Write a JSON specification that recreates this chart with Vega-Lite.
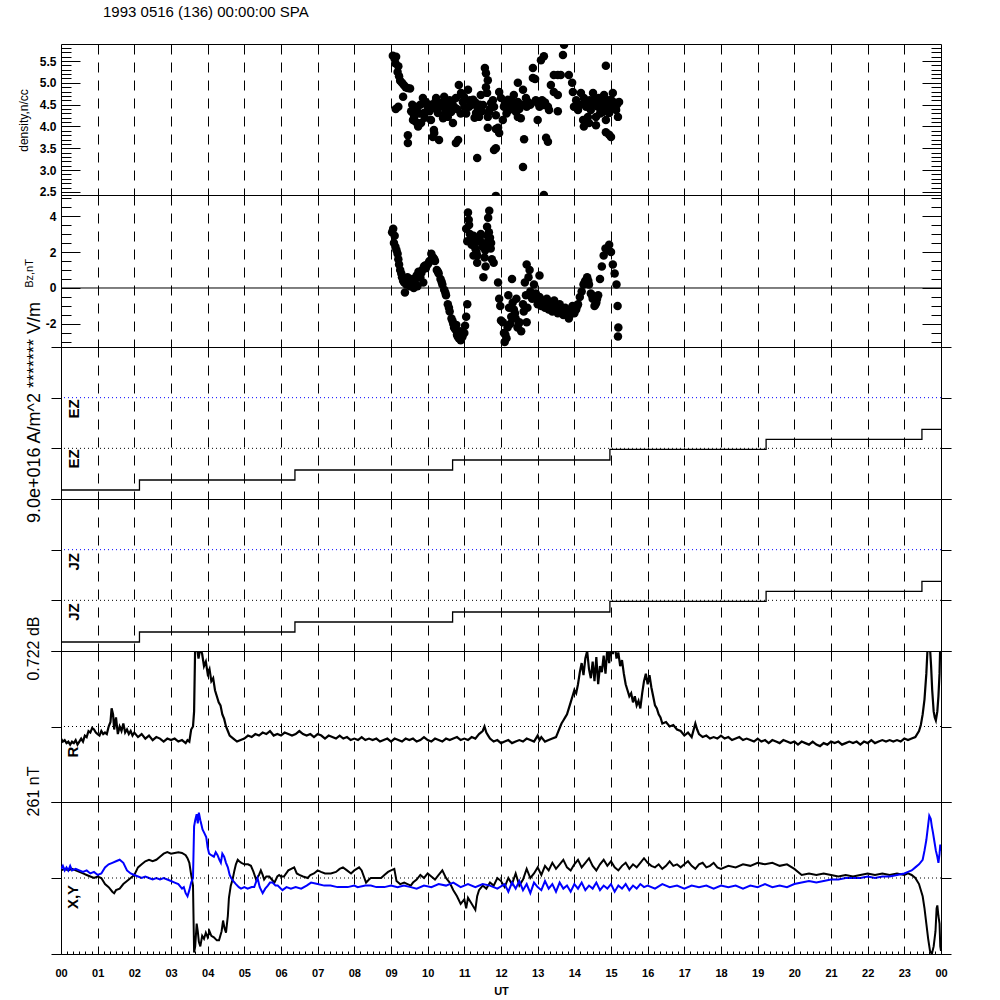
{
"$schema": "https://vega.github.io/schema/vega-lite/v6.json",
"padding": {"left": 16, "top": 4, "right": 10, "bottom": 4},
"spacing": 0,
"bounds": "flush",
"config": {
  "font": "Liberation Sans",
  "view": {"stroke": "black", "strokeWidth": 1},
  "axis": {"grid": false, "domain": false, "tickCount": 1000, "tickColor": "black", "labelColor": "black", "titleColor": "black", "labelFont": "Liberation Sans", "titleFont": "Liberation Sans", "titleFontWeight": "normal", "labelFontWeight": "bold", "labelFontSize": 12}
},
"datasets": {
"dens": [
{"t":9.05,"v":5.62},{"t":9.1,"v":5.55},{"t":9.14,"v":5.6},{"t":9.12,"v":5.45},{"t":9.2,"v":5.38},{"t":9.18,"v":5.25},{"t":9.22,"v":5.15},{"t":9.25,"v":5.05},{"t":9.3,"v":5.0},{"t":9.35,"v":4.95},{"t":9.4,"v":4.9},{"t":9.45,"v":4.88},{"t":9.52,"v":4.87},{"t":9.33,"v":4.68},{"t":9.13,"v":4.4},{"t":9.2,"v":4.45},
{"t":9.63,"v":4.22},{"t":9.6,"v":4.15},{"t":9.74,"v":4.0},{"t":9.82,"v":4.08},{"t":9.9,"v":4.31},{"t":10.0,"v":4.45},{"t":9.95,"v":4.56},{"t":9.87,"v":4.65},{"t":10.09,"v":4.5},{"t":10.09,"v":4.15},{"t":10.17,"v":3.92},{"t":10.14,"v":3.76},{"t":9.46,"v":3.8},{"t":9.46,"v":3.62},{"t":9.6,"v":4.31},{"t":9.68,"v":4.1},{"t":9.7,"v":4.4},{"t":9.78,"v":4.3},{"t":9.55,"v":4.35},
{"t":10.23,"v":4.65},{"t":10.36,"v":4.54},{"t":10.45,"v":4.68},{"t":10.55,"v":4.56},{"t":10.64,"v":4.33},{"t":10.72,"v":4.45},{"t":10.77,"v":4.65},{"t":10.28,"v":4.31},{"t":10.42,"v":4.19},{"t":10.55,"v":4.22},{"t":10.69,"v":4.08},{"t":10.31,"v":3.69},{"t":10.18,"v":3.85},{"t":10.83,"v":3.69},{"t":10.77,"v":3.62},{"t":10.85,"v":4.95},{"t":10.91,"v":4.77},{"t":10.96,"v":4.56},{"t":10.3,"v":4.45},{"t":10.5,"v":4.4},{"t":10.6,"v":4.6},
{"t":10.99,"v":4.68},{"t":11.1,"v":4.84},{"t":11.13,"v":4.45},{"t":11.24,"v":4.61},{"t":11.32,"v":4.31},{"t":11.37,"v":4.42},{"t":11.45,"v":4.72},{"t":11.51,"v":4.49},{"t":11.4,"v":4.22},{"t":11.56,"v":5.34},{"t":11.59,"v":5.22},{"t":11.64,"v":5.06},{"t":11.59,"v":4.9},{"t":11.62,"v":4.77},{"t":11.67,"v":4.33},{"t":11.64,"v":4.22},{"t":11.73,"v":4.54},{"t":11.81,"v":4.45},{"t":11.86,"v":4.26},{"t":11.35,"v":3.28},{"t":11.64,"v":3.97},{"t":11.86,"v":3.94},{"t":11.95,"v":3.85},{"t":11.86,"v":3.5},{"t":11.81,"v":3.46},{"t":11.05,"v":4.3},{"t":11.2,"v":4.5},{"t":11.28,"v":4.2},
{"t":11.95,"v":4.79},{"t":12.0,"v":4.65},{"t":12.08,"v":4.45},{"t":12.19,"v":4.61},{"t":12.22,"v":4.38},{"t":12.33,"v":4.54},{"t":12.35,"v":4.72},{"t":12.41,"v":4.33},{"t":12.46,"v":4.56},{"t":12.46,"v":5.0},{"t":12.54,"v":4.19},{"t":12.6,"v":4.84},{"t":12.68,"v":4.65},{"t":12.74,"v":4.56},{"t":12.76,"v":4.54},{"t":12.87,"v":5.34},{"t":12.87,"v":5.11},{"t":12.93,"v":5.09},{"t":13.0,"v":4.54},{"t":13.0,"v":4.15},{"t":12.6,"v":3.07},{"t":12.63,"v":3.71},{"t":12.46,"v":4.22},{"t":12.05,"v":4.15},{"t":11.86,"v":2.41},{"t":11.92,"v":3.97},{"t":12.15,"v":4.3},{"t":12.28,"v":4.45},
{"t":13.09,"v":5.52},{"t":13.17,"v":5.61},{"t":13.09,"v":4.56},{"t":13.17,"v":4.49},{"t":13.28,"v":4.45},{"t":13.31,"v":4.38},{"t":13.23,"v":3.74},{"t":13.28,"v":3.65},{"t":13.17,"v":2.43},{"t":13.36,"v":4.95},{"t":13.44,"v":5.18},{"t":13.55,"v":5.18},{"t":13.63,"v":5.18},{"t":13.69,"v":5.64},{"t":13.72,"v":5.87},{"t":13.44,"v":4.79},{"t":13.55,"v":4.72},{"t":13.55,"v":4.35},{"t":13.94,"v":5.0},{"t":13.96,"v":4.79},{"t":13.85,"v":5.18},
{"t":13.99,"v":4.45},{"t":14.1,"v":4.38},{"t":14.18,"v":4.77},{"t":14.26,"v":4.65},{"t":14.32,"v":4.45},{"t":14.24,"v":4.15},{"t":14.26,"v":4.0},{"t":14.37,"v":4.22},{"t":14.45,"v":4.38},{"t":14.51,"v":4.77},{"t":14.54,"v":4.61},{"t":14.59,"v":4.22},{"t":14.64,"v":4.45},{"t":14.67,"v":4.65},{"t":14.73,"v":4.54},{"t":14.78,"v":4.33},{"t":14.81,"v":4.72},{"t":14.86,"v":4.15},{"t":14.92,"v":4.45},{"t":14.95,"v":4.31},{"t":15.0,"v":4.61},{"t":15.05,"v":4.77},{"t":15.08,"v":4.49},{"t":15.14,"v":4.38},{"t":15.19,"v":4.22},{"t":15.22,"v":4.56},{"t":14.86,"v":5.39},{"t":14.95,"v":3.81},{"t":15.0,"v":3.76},{"t":14.86,"v":3.87},{"t":14.4,"v":4.08},{"t":14.59,"v":4.03},{"t":14.7,"v":4.3},{"t":14.9,"v":4.6},
{"t":10.05,"v":4.35},{"t":10.12,"v":4.42},{"t":10.2,"v":4.55},{"t":10.4,"v":4.45},{"t":10.48,"v":4.3},{"t":10.58,"v":4.48},{"t":10.67,"v":4.55},{"t":10.8,"v":4.4},{"t":10.9,"v":4.3},{"t":11.0,"v":4.45},{"t":11.15,"v":4.6},{"t":11.3,"v":4.55},{"t":11.42,"v":4.5},{"t":11.48,"v":4.35},{"t":11.7,"v":4.4},{"t":11.78,"v":4.6},{"t":12.1,"v":4.5},{"t":12.25,"v":4.6},{"t":12.38,"v":4.48},{"t":12.5,"v":4.4},{"t":12.58,"v":4.5},{"t":12.7,"v":4.45},{"t":12.8,"v":4.5},{"t":12.95,"v":4.6},{"t":13.05,"v":4.45},{"t":13.12,"v":4.6},{"t":13.2,"v":4.55},{"t":14.05,"v":4.6},{"t":14.15,"v":4.5},{"t":14.3,"v":4.55},{"t":14.42,"v":4.6},{"t":14.48,"v":4.5},{"t":14.62,"v":4.55},{"t":14.69,"v":4.45},{"t":14.76,"v":4.6},{"t":14.84,"v":4.5},{"t":14.98,"v":4.4},{"t":15.1,"v":4.55},{"t":15.16,"v":4.5},{"t":9.58,"v":4.5},{"t":9.66,"v":4.45},{"t":9.8,"v":4.5},{"t":9.92,"v":4.2}
],
"bz": [
{"t":9.03,"v":3.1},{"t":9.06,"v":3.3},{"t":9.1,"v":2.9},{"t":9.08,"v":2.5},{"t":9.12,"v":2.3},{"t":9.15,"v":2.1},{"t":9.18,"v":1.9},{"t":9.2,"v":1.6},{"t":9.22,"v":1.3},{"t":9.25,"v":1.0},{"t":9.28,"v":0.8},{"t":9.3,"v":0.6},{"t":9.33,"v":0.4},{"t":9.36,"v":0.3},{"t":9.4,"v":0.5},{"t":9.42,"v":0.2},{"t":9.38,"v":-0.25},{"t":9.45,"v":0.6},
{"t":9.5,"v":0.4},{"t":9.55,"v":0.2},{"t":9.6,"v":0.5},{"t":9.65,"v":0.3},{"t":9.7,"v":0.7},{"t":9.75,"v":0.9},{"t":9.8,"v":0.6},{"t":9.85,"v":1.0},{"t":9.9,"v":1.2},{"t":9.95,"v":1.1},{"t":10.0,"v":1.3},{"t":10.05,"v":1.5},{"t":10.1,"v":1.9},{"t":10.15,"v":1.7},{"t":10.2,"v":1.5},{"t":9.62,"v":0.0},{"t":9.72,"v":0.1},{"t":9.88,"v":0.3},
{"t":10.25,"v":1.0},{"t":10.3,"v":0.8},{"t":10.35,"v":0.5},{"t":10.4,"v":0.2},{"t":10.45,"v":-0.1},{"t":10.5,"v":-0.4},{"t":10.55,"v":-0.9},{"t":10.6,"v":-1.3},{"t":10.65,"v":-1.7},{"t":10.7,"v":-2.0},{"t":10.75,"v":-2.3},{"t":10.8,"v":-2.6},{"t":10.85,"v":-2.8},{"t":10.9,"v":-2.9},{"t":10.95,"v":-2.7},{"t":11.0,"v":-2.5},{"t":10.88,"v":-2.4},{"t":11.02,"v":-2.1},{"t":11.05,"v":-1.6},{"t":11.08,"v":-0.9},{"t":10.78,"v":-2.05},
{"t":11.05,"v":3.3},{"t":11.1,"v":4.2},{"t":11.12,"v":3.8},{"t":11.08,"v":2.6},{"t":11.15,"v":3.0},{"t":11.2,"v":2.4},{"t":11.25,"v":2.9},{"t":11.3,"v":2.2},{"t":11.35,"v":1.8},{"t":11.4,"v":2.6},{"t":11.45,"v":3.0},{"t":11.5,"v":2.3},{"t":11.55,"v":1.7},{"t":11.6,"v":2.5},{"t":11.62,"v":3.4},{"t":11.65,"v":3.9},{"t":11.7,"v":2.8},{"t":11.72,"v":2.2},{"t":11.75,"v":1.6},{"t":11.8,"v":1.4},{"t":11.68,"v":4.3},{"t":11.52,"v":0.6},{"t":11.58,"v":1.2},{"t":11.35,"v":1.4},{"t":11.25,"v":1.8},
{"t":11.92,"v":0.3},{"t":11.95,"v":-0.6},{"t":11.98,"v":-1.0},{"t":12.0,"v":-1.8},{"t":12.05,"v":-1.9},{"t":12.08,"v":-2.5},{"t":12.1,"v":-3.0},{"t":12.15,"v":-2.8},{"t":12.2,"v":-0.4},{"t":12.22,"v":-1.1},{"t":12.3,"v":0.5},{"t":12.35,"v":-1.2},{"t":12.4,"v":-1.7},{"t":12.45,"v":-2.2},{"t":12.5,"v":-1.9},{"t":12.55,"v":-2.4},{"t":12.42,"v":-0.6},{"t":12.25,"v":-2.0},{"t":12.6,"v":-0.9},
{"t":12.65,"v":0.3},{"t":12.7,"v":1.3},{"t":12.75,"v":0.6},{"t":12.68,"v":-0.4},{"t":12.72,"v":-1.1},{"t":12.7,"v":-1.9},{"t":12.8,"v":-0.2},{"t":12.85,"v":-0.6},{"t":12.9,"v":0.2},{"t":12.95,"v":-0.3},{"t":13.0,"v":-0.9},{"t":13.05,"v":-0.5},{"t":13.1,"v":-1.0},{"t":13.15,"v":-0.7},{"t":13.2,"v":-1.1},{"t":13.25,"v":-0.6},{"t":13.3,"v":-1.2},{"t":13.35,"v":-0.9},{"t":13.4,"v":-1.3},{"t":13.45,"v":-0.7},{"t":13.5,"v":-1.0},{"t":13.55,"v":-1.4},{"t":13.6,"v":-0.9},{"t":13.65,"v":-1.2},{"t":13.7,"v":-1.5},{"t":13.75,"v":-1.1},{"t":13.8,"v":-1.3},{"t":13.85,"v":-1.7},{"t":13.9,"v":-1.3},{"t":13.95,"v":-1.0},{"t":14.0,"v":-1.4},{"t":14.05,"v":-1.2},{"t":13.05,"v":0.7},{"t":12.78,"v":1.0},
{"t":14.1,"v":-0.9},{"t":14.15,"v":-0.5},{"t":14.2,"v":-0.2},{"t":14.25,"v":0.2},{"t":14.3,"v":0.4},{"t":14.35,"v":0.6},{"t":14.4,"v":0.2},{"t":14.45,"v":-0.3},{"t":14.5,"v":-0.6},{"t":14.55,"v":-1.0},{"t":14.6,"v":-0.8},{"t":14.65,"v":-0.4},{"t":14.7,"v":0.5},{"t":14.8,"v":1.8},{"t":14.85,"v":2.2},{"t":14.95,"v":2.4},{"t":15.0,"v":2.0},{"t":15.05,"v":1.3},{"t":15.1,"v":0.8},{"t":15.15,"v":0.2},{"t":15.18,"v":-1.0},{"t":15.2,"v":-2.2},{"t":15.19,"v":-2.7},
{"t":9.47,"v":0.5},{"t":9.52,"v":0.1},{"t":9.57,"v":0.35},{"t":9.68,"v":0.55},{"t":9.78,"v":0.75},{"t":9.83,"v":0.85},{"t":9.93,"v":1.25},{"t":10.03,"v":1.4},{"t":10.12,"v":1.6},{"t":10.18,"v":1.6},{"t":10.28,"v":0.9},{"t":10.38,"v":0.35},{"t":10.48,"v":-0.25},{"t":10.58,"v":-1.1},{"t":10.68,"v":-1.85},{"t":10.72,"v":-2.2},{"t":10.82,"v":-2.7},{"t":10.92,"v":-2.8},{"t":11.13,"v":3.5},{"t":11.18,"v":2.7},{"t":11.28,"v":2.5},{"t":11.33,"v":2.0},{"t":11.42,"v":2.8},{"t":11.48,"v":2.5},{"t":11.57,"v":2.1},{"t":11.63,"v":2.9},{"t":11.67,"v":3.1},{"t":11.73,"v":2.5},{"t":12.12,"v":-2.6},{"t":12.18,"v":-2.2},{"t":12.28,"v":-1.6},{"t":12.32,"v":-0.8},{"t":12.38,"v":-1.4},{"t":12.48,"v":-2.0},{"t":12.62,"v":-1.3},{"t":12.88,"v":-0.4},{"t":12.98,"v":-0.6},{"t":13.08,"v":-0.8},{"t":13.18,"v":-0.9},{"t":13.28,"v":-0.9},{"t":13.38,"v":-1.1},{"t":13.48,"v":-0.9},{"t":13.58,"v":-1.2},{"t":13.68,"v":-1.3},{"t":13.78,"v":-1.2},{"t":13.88,"v":-1.5},{"t":13.98,"v":-1.2},{"t":14.08,"v":-1.0},{"t":14.28,"v":0.3},{"t":14.38,"v":0.4},{"t":14.48,"v":-0.4},{"t":14.58,"v":-0.9},{"t":14.62,"v":-0.6},{"t":14.75,"v":1.2},{"t":14.9,"v":2.1}
],
"ez": [{"t":0,"v":0.178},{"t":2.14,"v":0.375},{"t":6.38,"v":0.572},{"t":10.68,"v":0.77},{"t":14.97,"v":0.98},{"t":19.23,"v":1.178},{"t":23.48,"v":1.375},{"t":24,"v":1.375}],
"r": [
{"t":0.0,"v":0.42},{"t":0.05,"v":0.40},{"t":0.1,"v":0.41},{"t":0.15,"v":0.39},{"t":0.2,"v":0.40},{"t":0.25,"v":0.38},{"t":0.3,"v":0.40},{"t":0.35,"v":0.39},{"t":0.4,"v":0.41},{"t":0.45,"v":0.38},{"t":0.5,"v":0.40},{"t":0.55,"v":0.42},{"t":0.6,"v":0.40},{"t":0.65,"v":0.44},{"t":0.7,"v":0.43},{"t":0.75,"v":0.47},{"t":0.8,"v":0.46},{"t":0.85,"v":0.49},{"t":0.9,"v":0.48},{"t":0.95,"v":0.46},{"t":1.0,"v":0.45},{"t":1.05,"v":0.44},{"t":1.1,"v":0.47},{"t":1.15,"v":0.45},{"t":1.2,"v":0.46},{"t":1.25,"v":0.45},{"t":1.3,"v":0.50},{"t":1.35,"v":0.53},{"t":1.38,"v":0.62},{"t":1.42,"v":0.58},{"t":1.45,"v":0.48},{"t":1.5,"v":0.56},{"t":1.55,"v":0.45},{"t":1.6,"v":0.50},{"t":1.65,"v":0.47},{"t":1.7,"v":0.52},{"t":1.75,"v":0.46},{"t":1.8,"v":0.48},{"t":1.85,"v":0.45},{"t":1.9,"v":0.47},{"t":1.95,"v":0.44},{"t":2.0,"v":0.46},{"t":2.1,"v":0.43},{"t":2.2,"v":0.45},{"t":2.3,"v":0.42},{"t":2.4,"v":0.44},{"t":2.5,"v":0.41},{"t":2.6,"v":0.43},{"t":2.7,"v":0.42},{"t":2.8,"v":0.40},{"t":2.9,"v":0.42},{"t":3.0,"v":0.41},{"t":3.1,"v":0.42},{"t":3.2,"v":0.40},{"t":3.3,"v":0.41},{"t":3.4,"v":0.39},{"t":3.45,"v":0.41},{"t":3.5,"v":0.40},{"t":3.55,"v":0.48},{"t":3.6,"v":0.50},{"t":3.63,"v":0.60},{"t":3.66,"v":1.05},{"t":3.7,"v":1.05},{"t":3.75,"v":0.95},{"t":3.8,"v":1.02},{"t":3.85,"v":0.98},{"t":3.9,"v":0.90},{"t":3.95,"v":0.93},{"t":4.0,"v":0.85},{"t":4.05,"v":0.88},{"t":4.1,"v":0.80},{"t":4.15,"v":0.82},{"t":4.2,"v":0.74},{"t":4.25,"v":0.70},{"t":4.3,"v":0.66},{"t":4.35,"v":0.64},{"t":4.4,"v":0.58},{"t":4.45,"v":0.55},{"t":4.5,"v":0.50},{"t":4.55,"v":0.47},{"t":4.6,"v":0.44},{"t":4.7,"v":0.42},{"t":4.8,"v":0.40},{"t":4.9,"v":0.41},
{"t":5.0,"v":0.42},{"t":5.1,"v":0.44},{"t":5.2,"v":0.43},{"t":5.3,"v":0.45},{"t":5.4,"v":0.44},{"t":5.5,"v":0.46},{"t":5.6,"v":0.45},{"t":5.7,"v":0.47},{"t":5.8,"v":0.44},{"t":5.9,"v":0.45},{"t":6.0,"v":0.44},{"t":6.1,"v":0.46},{"t":6.2,"v":0.45},{"t":6.3,"v":0.44},{"t":6.4,"v":0.45},{"t":6.5,"v":0.47},{"t":6.6,"v":0.45},{"t":6.7,"v":0.44},{"t":6.8,"v":0.45},{"t":6.9,"v":0.43},{"t":7.0,"v":0.45},{"t":7.1,"v":0.44},{"t":7.2,"v":0.42},{"t":7.3,"v":0.44},{"t":7.4,"v":0.43},{"t":7.5,"v":0.42},{"t":7.6,"v":0.44},{"t":7.7,"v":0.42},{"t":7.8,"v":0.43},{"t":7.9,"v":0.41},{"t":8.0,"v":0.42},{"t":8.1,"v":0.41},{"t":8.2,"v":0.43},{"t":8.3,"v":0.41},{"t":8.4,"v":0.42},{"t":8.5,"v":0.41},{"t":8.6,"v":0.42},{"t":8.7,"v":0.40},{"t":8.8,"v":0.41},{"t":8.9,"v":0.42},{"t":9.0,"v":0.40},{"t":9.1,"v":0.42},{"t":9.2,"v":0.41},{"t":9.3,"v":0.40},{"t":9.4,"v":0.42},{"t":9.5,"v":0.41},{"t":9.6,"v":0.42},{"t":9.7,"v":0.40},{"t":9.8,"v":0.41},{"t":9.9,"v":0.43},{"t":10.0,"v":0.41},{"t":10.1,"v":0.40},{"t":10.2,"v":0.42},{"t":10.3,"v":0.41},{"t":10.4,"v":0.40},{"t":10.5,"v":0.42},{"t":10.6,"v":0.41},{"t":10.7,"v":0.42},{"t":10.8,"v":0.43},{"t":10.9,"v":0.41},{"t":11.0,"v":0.42},{"t":11.1,"v":0.41},{"t":11.2,"v":0.43},{"t":11.3,"v":0.42},{"t":11.4,"v":0.45},{"t":11.5,"v":0.47},{"t":11.55,"v":0.50},{"t":11.6,"v":0.46},{"t":11.65,"v":0.44},{"t":11.7,"v":0.42},{"t":11.8,"v":0.40},{"t":11.9,"v":0.41},{"t":12.0,"v":0.39},{"t":12.1,"v":0.40},{"t":12.2,"v":0.41},{"t":12.3,"v":0.39},{"t":12.4,"v":0.40},{"t":12.5,"v":0.41},{"t":12.6,"v":0.40},{"t":12.7,"v":0.42},{"t":12.8,"v":0.41},{"t":12.9,"v":0.40},{"t":13.0,"v":0.44},{"t":13.05,"v":0.41},{"t":13.1,"v":0.43},{"t":13.2,"v":0.40},{"t":13.3,"v":0.41},{"t":13.4,"v":0.42},{"t":13.5,"v":0.43},{"t":13.55,"v":0.46},{"t":13.6,"v":0.49},{"t":13.65,"v":0.52},{"t":13.7,"v":0.54},{"t":13.75,"v":0.56},{"t":13.8,"v":0.58},{"t":13.85,"v":0.62},{"t":13.9,"v":0.66},{"t":13.95,"v":0.70},{"t":14.0,"v":0.74},{"t":14.05,"v":0.72},{"t":14.1,"v":0.78},{"t":14.15,"v":0.86},{"t":14.2,"v":0.92},{"t":14.25,"v":0.84},{"t":14.3,"v":0.95},{"t":14.35,"v":1.0},{"t":14.4,"v":0.88},{"t":14.45,"v":0.82},{"t":14.5,"v":0.93},{"t":14.55,"v":0.80},{"t":14.6,"v":0.96},{"t":14.65,"v":0.78},{"t":14.7,"v":0.90},{"t":14.75,"v":0.86},{"t":14.8,"v":0.97},{"t":14.85,"v":0.85},{"t":14.9,"v":1.02},{"t":14.95,"v":0.92},{"t":15.0,"v":1.05},{"t":15.05,"v":0.98},{"t":15.1,"v":1.05},{"t":15.15,"v":0.95},{"t":15.2,"v":0.99},{"t":15.25,"v":0.90},{"t":15.3,"v":0.94},{"t":15.35,"v":0.85},{"t":15.4,"v":0.78},{"t":15.45,"v":0.74},{"t":15.5,"v":0.70},{"t":15.55,"v":0.72},{"t":15.6,"v":0.66},{"t":15.65,"v":0.70},{"t":15.7,"v":0.64},{"t":15.75,"v":0.67},{"t":15.8,"v":0.62},{"t":15.85,"v":0.72},{"t":15.9,"v":0.80},{"t":15.95,"v":0.85},{"t":16.0,"v":0.78},{"t":16.05,"v":0.84},{"t":16.1,"v":0.76},{"t":16.15,"v":0.70},{"t":16.2,"v":0.64},{"t":16.25,"v":0.62},{"t":16.3,"v":0.58},{"t":16.35,"v":0.56},{"t":16.4,"v":0.52},{"t":16.5,"v":0.53},{"t":16.6,"v":0.50},{"t":16.7,"v":0.51},{"t":16.8,"v":0.48},{"t":16.9,"v":0.47},{"t":17.0,"v":0.44},{"t":17.1,"v":0.46},{"t":17.2,"v":0.43},{"t":17.3,"v":0.52},{"t":17.35,"v":0.48},{"t":17.4,"v":0.45},{"t":17.5,"v":0.43},{"t":17.6,"v":0.44},{"t":17.7,"v":0.42},{"t":17.8,"v":0.43},{"t":17.9,"v":0.42},{"t":18.0,"v":0.44},{"t":18.1,"v":0.42},{"t":18.2,"v":0.43},{"t":18.3,"v":0.41},{"t":18.4,"v":0.42},{"t":18.5,"v":0.43},{"t":18.6,"v":0.41},{"t":18.7,"v":0.42},{"t":18.8,"v":0.41},{"t":18.9,"v":0.40},{"t":19.0,"v":0.42},{"t":19.1,"v":0.40},{"t":19.2,"v":0.41},{"t":19.3,"v":0.39},{"t":19.4,"v":0.41},{"t":19.5,"v":0.40},{"t":19.6,"v":0.39},{"t":19.7,"v":0.41},{"t":19.8,"v":0.40},{"t":19.9,"v":0.39},{"t":20.0,"v":0.40},{"t":20.1,"v":0.38},{"t":20.2,"v":0.40},{"t":20.3,"v":0.39},{"t":20.4,"v":0.38},{"t":20.5,"v":0.40},{"t":20.6,"v":0.38},{"t":20.7,"v":0.37},{"t":20.8,"v":0.39},{"t":20.9,"v":0.38},{"t":21.0,"v":0.40},{"t":21.1,"v":0.39},{"t":21.2,"v":0.40},{"t":21.3,"v":0.38},{"t":21.4,"v":0.39},{"t":21.5,"v":0.40},{"t":21.6,"v":0.39},{"t":21.7,"v":0.40},{"t":21.8,"v":0.38},{"t":21.9,"v":0.40},{"t":22.0,"v":0.39},{"t":22.1,"v":0.41},{"t":22.2,"v":0.39},{"t":22.3,"v":0.40},{"t":22.4,"v":0.41},{"t":22.5,"v":0.40},{"t":22.6,"v":0.41},{"t":22.7,"v":0.40},{"t":22.8,"v":0.41},{"t":22.9,"v":0.40},{"t":23.0,"v":0.42},{"t":23.1,"v":0.41},{"t":23.2,"v":0.42},{"t":23.3,"v":0.43},{"t":23.4,"v":0.47},{"t":23.45,"v":0.51},{"t":23.5,"v":0.58},{"t":23.55,"v":0.68},{"t":23.6,"v":0.85},{"t":23.63,"v":1.0},{"t":23.66,"v":1.05},{"t":23.7,"v":1.02},{"t":23.73,"v":0.90},{"t":23.76,"v":0.74},{"t":23.8,"v":0.60},{"t":23.83,"v":0.56},{"t":23.86,"v":0.54},{"t":23.9,"v":0.60},{"t":23.93,"v":0.70},{"t":23.96,"v":0.85},{"t":23.98,"v":1.05},{"t":24.0,"v":1.05}
],
"xy": [
{"s":"X","t":0.0,"v":0.55},{"s":"X","t":0.1,"v":0.56},{"s":"X","t":0.2,"v":0.55},{"s":"X","t":0.3,"v":0.56},{"s":"X","t":0.4,"v":0.55},{"s":"X","t":0.5,"v":0.54},{"s":"X","t":0.6,"v":0.53},{"s":"X","t":0.7,"v":0.52},{"s":"X","t":0.8,"v":0.51},{"s":"X","t":0.9,"v":0.50},{"s":"X","t":1.0,"v":0.51},{"s":"X","t":1.1,"v":0.50},{"s":"X","t":1.2,"v":0.46},{"s":"X","t":1.3,"v":0.44},{"s":"X","t":1.4,"v":0.41},{"s":"X","t":1.45,"v":0.40},{"s":"X","t":1.5,"v":0.42},{"s":"X","t":1.6,"v":0.43},{"s":"X","t":1.7,"v":0.46},{"s":"X","t":1.8,"v":0.48},{"s":"X","t":1.9,"v":0.50},{"s":"X","t":2.0,"v":0.52},{"s":"X","t":2.1,"v":0.57},{"s":"X","t":2.2,"v":0.59},{"s":"X","t":2.3,"v":0.61},{"s":"X","t":2.4,"v":0.62},{"s":"X","t":2.5,"v":0.61},{"s":"X","t":2.6,"v":0.62},{"s":"X","t":2.7,"v":0.64},{"s":"X","t":2.8,"v":0.66},{"s":"X","t":2.9,"v":0.67},{"s":"X","t":3.0,"v":0.66},{"s":"X","t":3.1,"v":0.665},{"s":"X","t":3.2,"v":0.67},{"s":"X","t":3.3,"v":0.665},{"s":"X","t":3.4,"v":0.65},{"s":"X","t":3.45,"v":0.63},{"s":"X","t":3.5,"v":0.60},{"s":"X","t":3.55,"v":0.52},{"s":"X","t":3.6,"v":0.45},{"s":"X","t":3.63,"v":0.01},{"s":"X","t":3.66,"v":0.05},{"s":"X","t":3.7,"v":0.20},{"s":"X","t":3.73,"v":0.15},{"s":"X","t":3.76,"v":0.08},{"s":"X","t":3.8,"v":0.05},{"s":"X","t":3.85,"v":0.12},{"s":"X","t":3.9,"v":0.10},{"s":"X","t":3.95,"v":0.14},{"s":"X","t":4.0,"v":0.11},{"s":"X","t":4.05,"v":0.15},{"s":"X","t":4.1,"v":0.12},{"s":"X","t":4.17,"v":0.11},{"s":"X","t":4.25,"v":0.09},{"s":"X","t":4.31,"v":0.09},{"s":"X","t":4.38,"v":0.15},{"s":"X","t":4.42,"v":0.22},{"s":"X","t":4.46,"v":0.17},{"s":"X","t":4.5,"v":0.14},{"s":"X","t":4.55,"v":0.25},{"s":"X","t":4.58,"v":0.37},{"s":"X","t":4.63,"v":0.45},{"s":"X","t":4.68,"v":0.49},{"s":"X","t":4.73,"v":0.55},{"s":"X","t":4.77,"v":0.59},{"s":"X","t":4.82,"v":0.62},{"s":"X","t":4.86,"v":0.61},{"s":"X","t":4.92,"v":0.60},{"s":"X","t":5.0,"v":0.59},{"s":"X","t":5.1,"v":0.59},{"s":"X","t":5.18,"v":0.58},{"s":"X","t":5.25,"v":0.54},{"s":"X","t":5.32,"v":0.49},{"s":"X","t":5.4,"v":0.52},{"s":"X","t":5.45,"v":0.55},{"s":"X","t":5.5,"v":0.52},{"s":"X","t":5.54,"v":0.49},{"s":"X","t":5.6,"v":0.51},{"s":"X","t":5.68,"v":0.51},{"s":"X","t":5.75,"v":0.49},{"s":"X","t":5.82,"v":0.47},{"s":"X","t":5.9,"v":0.51},{"s":"X","t":5.95,"v":0.52},{"s":"X","t":6.0,"v":0.51},{"s":"X","t":6.08,"v":0.51},{"s":"X","t":6.2,"v":0.55},{"s":"X","t":6.36,"v":0.57},{"s":"X","t":6.43,"v":0.53},{"s":"X","t":6.5,"v":0.52},{"s":"X","t":6.6,"v":0.51},{"s":"X","t":6.73,"v":0.50},{"s":"X","t":6.8,"v":0.52},{"s":"X","t":6.9,"v":0.53},{"s":"X","t":7.0,"v":0.55},{"s":"X","t":7.09,"v":0.54},{"s":"X","t":7.2,"v":0.53},{"s":"X","t":7.36,"v":0.53},{"s":"X","t":7.5,"v":0.54},{"s":"X","t":7.6,"v":0.56},{"s":"X","t":7.69,"v":0.57},{"s":"X","t":7.8,"v":0.55},{"s":"X","t":7.91,"v":0.53},{"s":"X","t":8.0,"v":0.55},{"s":"X","t":8.13,"v":0.57},{"s":"X","t":8.2,"v":0.55},{"s":"X","t":8.32,"v":0.47},{"s":"X","t":8.4,"v":0.49},{"s":"X","t":8.45,"v":0.50},{"s":"X","t":8.6,"v":0.50},{"s":"X","t":8.73,"v":0.50},{"s":"X","t":8.82,"v":0.52},{"s":"X","t":8.92,"v":0.54},{"s":"X","t":9.0,"v":0.55},{"s":"X","t":9.09,"v":0.56},{"s":"X","t":9.15,"v":0.48},{"s":"X","t":9.25,"v":0.46},{"s":"X","t":9.36,"v":0.47},{"s":"X","t":9.45,"v":0.46},{"s":"X","t":9.54,"v":0.45},
{"s":"X","t":9.6,"v":0.47},{"s":"X","t":9.7,"v":0.49},{"s":"X","t":9.8,"v":0.52},{"s":"X","t":9.9,"v":0.50},{"s":"X","t":10.0,"v":0.53},{"s":"X","t":10.1,"v":0.51},{"s":"X","t":10.2,"v":0.49},{"s":"X","t":10.3,"v":0.52},{"s":"X","t":10.4,"v":0.55},{"s":"X","t":10.5,"v":0.50},{"s":"X","t":10.6,"v":0.47},{"s":"X","t":10.7,"v":0.42},{"s":"X","t":10.8,"v":0.38},{"s":"X","t":10.9,"v":0.33},{"s":"X","t":11.0,"v":0.36},{"s":"X","t":11.05,"v":0.30},{"s":"X","t":11.1,"v":0.37},{"s":"X","t":11.2,"v":0.33},{"s":"X","t":11.3,"v":0.29},{"s":"X","t":11.35,"v":0.38},{"s":"X","t":11.4,"v":0.42},{"s":"X","t":11.5,"v":0.45},{"s":"X","t":11.6,"v":0.43},{"s":"X","t":11.7,"v":0.47},{"s":"X","t":11.8,"v":0.45},{"s":"X","t":11.9,"v":0.50},{"s":"X","t":12.0,"v":0.48},{"s":"X","t":12.1,"v":0.44},{"s":"X","t":12.2,"v":0.50},{"s":"X","t":12.3,"v":0.46},{"s":"X","t":12.4,"v":0.53},{"s":"X","t":12.5,"v":0.45},{"s":"X","t":12.6,"v":0.49},{"s":"X","t":12.7,"v":0.56},{"s":"X","t":12.8,"v":0.50},{"s":"X","t":12.9,"v":0.53},{"s":"X","t":13.0,"v":0.57},{"s":"X","t":13.1,"v":0.52},{"s":"X","t":13.2,"v":0.58},{"s":"X","t":13.3,"v":0.55},{"s":"X","t":13.4,"v":0.60},{"s":"X","t":13.5,"v":0.56},{"s":"X","t":13.6,"v":0.59},{"s":"X","t":13.7,"v":0.62},{"s":"X","t":13.8,"v":0.57},{"s":"X","t":13.9,"v":0.55},{"s":"X","t":14.0,"v":0.59},{"s":"X","t":14.1,"v":0.62},{"s":"X","t":14.2,"v":0.57},{"s":"X","t":14.3,"v":0.60},{"s":"X","t":14.4,"v":0.63},{"s":"X","t":14.5,"v":0.58},{"s":"X","t":14.6,"v":0.55},{"s":"X","t":14.7,"v":0.59},{"s":"X","t":14.8,"v":0.62},{"s":"X","t":14.9,"v":0.58},{"s":"X","t":15.0,"v":0.61},{"s":"X","t":15.1,"v":0.57},{"s":"X","t":15.2,"v":0.55},{"s":"X","t":15.3,"v":0.58},{"s":"X","t":15.4,"v":0.60},{"s":"X","t":15.5,"v":0.56},{"s":"X","t":15.6,"v":0.59},{"s":"X","t":15.7,"v":0.57},{"s":"X","t":15.8,"v":0.60},{"s":"X","t":15.9,"v":0.63},{"s":"X","t":16.0,"v":0.60},{"s":"X","t":16.1,"v":0.58},{"s":"X","t":16.2,"v":0.57},{"s":"X","t":16.3,"v":0.59},{"s":"X","t":16.4,"v":0.56},{"s":"X","t":16.5,"v":0.58},{"s":"X","t":16.6,"v":0.61},{"s":"X","t":16.7,"v":0.58},{"s":"X","t":16.8,"v":0.59},{"s":"X","t":16.9,"v":0.57},{"s":"X","t":17.0,"v":0.59},{"s":"X","t":17.1,"v":0.61},{"s":"X","t":17.2,"v":0.58},{"s":"X","t":17.3,"v":0.56},{"s":"X","t":17.4,"v":0.59},{"s":"X","t":17.5,"v":0.60},{"s":"X","t":17.6,"v":0.57},{"s":"X","t":17.7,"v":0.58},{"s":"X","t":17.8,"v":0.60},{"s":"X","t":17.9,"v":0.57},{"s":"X","t":18.0,"v":0.56},{"s":"X","t":18.2,"v":0.58},{"s":"X","t":18.4,"v":0.57},{"s":"X","t":18.6,"v":0.59},{"s":"X","t":18.8,"v":0.58},{"s":"X","t":19.0,"v":0.60},{"s":"X","t":19.2,"v":0.59},{"s":"X","t":19.4,"v":0.60},{"s":"X","t":19.6,"v":0.58},{"s":"X","t":19.8,"v":0.59},{"s":"X","t":20.0,"v":0.56},{"s":"X","t":20.2,"v":0.52},{"s":"X","t":20.4,"v":0.53},{"s":"X","t":20.6,"v":0.52},{"s":"X","t":20.8,"v":0.53},{"s":"X","t":21.0,"v":0.52},{"s":"X","t":21.2,"v":0.51},{"s":"X","t":21.4,"v":0.52},{"s":"X","t":21.6,"v":0.51},{"s":"X","t":21.8,"v":0.52},{"s":"X","t":22.0,"v":0.53},{"s":"X","t":22.2,"v":0.52},{"s":"X","t":22.4,"v":0.53},{"s":"X","t":22.6,"v":0.52},{"s":"X","t":22.8,"v":0.53},{"s":"X","t":23.0,"v":0.52},{"s":"X","t":23.1,"v":0.53},{"s":"X","t":23.2,"v":0.52},{"s":"X","t":23.3,"v":0.50},{"s":"X","t":23.4,"v":0.46},{"s":"X","t":23.5,"v":0.38},{"s":"X","t":23.55,"v":0.30},{"s":"X","t":23.6,"v":0.20},{"s":"X","t":23.65,"v":0.10},{"s":"X","t":23.7,"v":0.02},{"s":"X","t":23.75,"v":0.0},{"s":"X","t":23.8,"v":0.05},{"s":"X","t":23.85,"v":0.15},{"s":"X","t":23.88,"v":0.30},{"s":"X","t":23.9,"v":0.32},{"s":"X","t":23.93,"v":0.25},{"s":"X","t":23.96,"v":0.20},{"s":"X","t":23.98,"v":0.05},{"s":"X","t":24.0,"v":0.02},
{"s":"Y","t":0.0,"v":0.56},{"s":"Y","t":0.05,"v":0.58},{"s":"Y","t":0.1,"v":0.55},{"s":"Y","t":0.15,"v":0.57},{"s":"Y","t":0.2,"v":0.55},{"s":"Y","t":0.25,"v":0.58},{"s":"Y","t":0.3,"v":0.55},{"s":"Y","t":0.4,"v":0.56},{"s":"Y","t":0.5,"v":0.55},{"s":"Y","t":0.6,"v":0.54},{"s":"Y","t":0.7,"v":0.55},{"s":"Y","t":0.8,"v":0.53},{"s":"Y","t":0.9,"v":0.54},{"s":"Y","t":1.0,"v":0.52},{"s":"Y","t":1.1,"v":0.53},{"s":"Y","t":1.2,"v":0.57},{"s":"Y","t":1.3,"v":0.59},{"s":"Y","t":1.4,"v":0.60},{"s":"Y","t":1.5,"v":0.61},{"s":"Y","t":1.6,"v":0.62},{"s":"Y","t":1.7,"v":0.60},{"s":"Y","t":1.8,"v":0.55},{"s":"Y","t":1.9,"v":0.53},{"s":"Y","t":2.0,"v":0.52},{"s":"Y","t":2.1,"v":0.51},{"s":"Y","t":2.2,"v":0.50},{"s":"Y","t":2.3,"v":0.51},{"s":"Y","t":2.4,"v":0.50},{"s":"Y","t":2.5,"v":0.49},{"s":"Y","t":2.6,"v":0.50},{"s":"Y","t":2.7,"v":0.49},{"s":"Y","t":2.8,"v":0.50},{"s":"Y","t":2.9,"v":0.49},{"s":"Y","t":3.0,"v":0.48},{"s":"Y","t":3.1,"v":0.47},{"s":"Y","t":3.2,"v":0.46},{"s":"Y","t":3.3,"v":0.43},{"s":"Y","t":3.35,"v":0.44},{"s":"Y","t":3.4,"v":0.40},{"s":"Y","t":3.45,"v":0.38},{"s":"Y","t":3.5,"v":0.42},{"s":"Y","t":3.55,"v":0.47},{"s":"Y","t":3.6,"v":0.50},{"s":"Y","t":3.63,"v":0.84},{"s":"Y","t":3.66,"v":0.88},{"s":"Y","t":3.7,"v":0.92},{"s":"Y","t":3.73,"v":0.86},{"s":"Y","t":3.76,"v":0.93},{"s":"Y","t":3.8,"v":0.88},{"s":"Y","t":3.83,"v":0.85},{"s":"Y","t":3.86,"v":0.82},{"s":"Y","t":3.9,"v":0.80},{"s":"Y","t":3.96,"v":0.77},{"s":"Y","t":4.0,"v":0.70},{"s":"Y","t":4.04,"v":0.66},{"s":"Y","t":4.1,"v":0.65},{"s":"Y","t":4.17,"v":0.64},{"s":"Y","t":4.22,"v":0.67},{"s":"Y","t":4.27,"v":0.65},{"s":"Y","t":4.32,"v":0.62},{"s":"Y","t":4.36,"v":0.60},{"s":"Y","t":4.4,"v":0.66},{"s":"Y","t":4.45,"v":0.64},{"s":"Y","t":4.5,"v":0.60},{"s":"Y","t":4.55,"v":0.57},{"s":"Y","t":4.6,"v":0.52},{"s":"Y","t":4.64,"v":0.50},{"s":"Y","t":4.7,"v":0.48},{"s":"Y","t":4.77,"v":0.46},{"s":"Y","t":4.85,"v":0.44},{"s":"Y","t":4.91,"v":0.43},{"s":"Y","t":5.0,"v":0.44},{"s":"Y","t":5.09,"v":0.43},{"s":"Y","t":5.2,"v":0.44},{"s":"Y","t":5.27,"v":0.44},{"s":"Y","t":5.36,"v":0.50},{"s":"Y","t":5.42,"v":0.44},{"s":"Y","t":5.5,"v":0.40},{"s":"Y","t":5.57,"v":0.43},{"s":"Y","t":5.64,"v":0.45},{"s":"Y","t":5.7,"v":0.47},{"s":"Y","t":5.77,"v":0.47},{"s":"Y","t":5.85,"v":0.45},{"s":"Y","t":5.91,"v":0.45},{"s":"Y","t":6.04,"v":0.42},{"s":"Y","t":6.15,"v":0.44},{"s":"Y","t":6.27,"v":0.43},{"s":"Y","t":6.4,"v":0.44},{"s":"Y","t":6.55,"v":0.43},{"s":"Y","t":6.7,"v":0.45},{"s":"Y","t":6.82,"v":0.47},{"s":"Y","t":7.0,"v":0.46},{"s":"Y","t":7.18,"v":0.45},{"s":"Y","t":7.35,"v":0.45},{"s":"Y","t":7.54,"v":0.44},{"s":"Y","t":7.7,"v":0.44},{"s":"Y","t":7.82,"v":0.44},{"s":"Y","t":8.0,"v":0.45},{"s":"Y","t":8.09,"v":0.44},{"s":"Y","t":8.3,"v":0.45},{"s":"Y","t":8.45,"v":0.45},{"s":"Y","t":8.6,"v":0.44},{"s":"Y","t":8.82,"v":0.44},{"s":"Y","t":9.0,"v":0.45},{"s":"Y","t":9.18,"v":0.44},{"s":"Y","t":9.35,"v":0.45},{"s":"Y","t":9.54,"v":0.44},{"s":"Y","t":9.7,"v":0.43},{"s":"Y","t":9.9,"v":0.45},{"s":"Y","t":10.1,"v":0.44},{"s":"Y","t":10.3,"v":0.46},{"s":"Y","t":10.5,"v":0.45},{"s":"Y","t":10.7,"v":0.47},{"s":"Y","t":10.9,"v":0.44},{"s":"Y","t":11.1,"v":0.46},{"s":"Y","t":11.3,"v":0.44},{"s":"Y","t":11.5,"v":0.46},{"s":"Y","t":11.7,"v":0.45},{"s":"Y","t":11.9,"v":0.43},{"s":"Y","t":12.1,"v":0.46},{"s":"Y","t":12.2,"v":0.41},{"s":"Y","t":12.3,"v":0.47},{"s":"Y","t":12.4,"v":0.43},{"s":"Y","t":12.5,"v":0.48},{"s":"Y","t":12.6,"v":0.42},{"s":"Y","t":12.7,"v":0.46},{"s":"Y","t":12.8,"v":0.40},{"s":"Y","t":12.9,"v":0.47},{"s":"Y","t":13.0,"v":0.44},{"s":"Y","t":13.1,"v":0.42},{"s":"Y","t":13.2,"v":0.48},{"s":"Y","t":13.3,"v":0.43},{"s":"Y","t":13.4,"v":0.46},{"s":"Y","t":13.5,"v":0.41},{"s":"Y","t":13.6,"v":0.47},{"s":"Y","t":13.7,"v":0.43},{"s":"Y","t":13.8,"v":0.45},{"s":"Y","t":13.9,"v":0.41},{"s":"Y","t":14.0,"v":0.46},{"s":"Y","t":14.1,"v":0.43},{"s":"Y","t":14.2,"v":0.47},{"s":"Y","t":14.3,"v":0.42},{"s":"Y","t":14.4,"v":0.45},{"s":"Y","t":14.5,"v":0.43},{"s":"Y","t":14.6,"v":0.47},{"s":"Y","t":14.7,"v":0.42},{"s":"Y","t":14.8,"v":0.45},{"s":"Y","t":14.9,"v":0.43},{"s":"Y","t":15.0,"v":0.46},{"s":"Y","t":15.1,"v":0.41},{"s":"Y","t":15.2,"v":0.45},{"s":"Y","t":15.3,"v":0.43},{"s":"Y","t":15.4,"v":0.46},{"s":"Y","t":15.5,"v":0.42},{"s":"Y","t":15.6,"v":0.45},{"s":"Y","t":15.7,"v":0.43},{"s":"Y","t":15.8,"v":0.46},{"s":"Y","t":15.9,"v":0.44},{"s":"Y","t":16.0,"v":0.45},{"s":"Y","t":16.2,"v":0.43},{"s":"Y","t":16.4,"v":0.46},{"s":"Y","t":16.6,"v":0.44},{"s":"Y","t":16.8,"v":0.45},{"s":"Y","t":17.0,"v":0.43},{"s":"Y","t":17.2,"v":0.45},{"s":"Y","t":17.4,"v":0.44},{"s":"Y","t":17.6,"v":0.45},{"s":"Y","t":17.8,"v":0.43},{"s":"Y","t":18.0,"v":0.45},{"s":"Y","t":18.2,"v":0.44},{"s":"Y","t":18.4,"v":0.45},{"s":"Y","t":18.6,"v":0.43},{"s":"Y","t":18.8,"v":0.45},{"s":"Y","t":19.0,"v":0.44},{"s":"Y","t":19.2,"v":0.46},{"s":"Y","t":19.4,"v":0.44},{"s":"Y","t":19.6,"v":0.45},{"s":"Y","t":19.8,"v":0.44},{"s":"Y","t":20.0,"v":0.46},{"s":"Y","t":20.2,"v":0.47},{"s":"Y","t":20.4,"v":0.48},{"s":"Y","t":20.6,"v":0.47},{"s":"Y","t":20.8,"v":0.48},{"s":"Y","t":21.0,"v":0.49},{"s":"Y","t":21.2,"v":0.49},{"s":"Y","t":21.4,"v":0.50},{"s":"Y","t":21.6,"v":0.50},{"s":"Y","t":21.8,"v":0.50},{"s":"Y","t":22.0,"v":0.51},{"s":"Y","t":22.2,"v":0.50},{"s":"Y","t":22.4,"v":0.51},{"s":"Y","t":22.6,"v":0.51},{"s":"Y","t":22.8,"v":0.52},{"s":"Y","t":23.0,"v":0.53},{"s":"Y","t":23.1,"v":0.54},{"s":"Y","t":23.2,"v":0.55},{"s":"Y","t":23.3,"v":0.57},{"s":"Y","t":23.4,"v":0.59},{"s":"Y","t":23.5,"v":0.62},{"s":"Y","t":23.55,"v":0.68},{"s":"Y","t":23.6,"v":0.75},{"s":"Y","t":23.65,"v":0.85},{"s":"Y","t":23.68,"v":0.91},{"s":"Y","t":23.72,"v":0.89},{"s":"Y","t":23.75,"v":0.84},{"s":"Y","t":23.78,"v":0.80},{"s":"Y","t":23.82,"v":0.74},{"s":"Y","t":23.86,"v":0.68},{"s":"Y","t":23.9,"v":0.64},{"s":"Y","t":23.93,"v":0.60},{"s":"Y","t":23.96,"v":0.66},{"s":"Y","t":23.98,"v":0.72},{"s":"Y","t":24.0,"v":0.68}
]
},
"vconcat": [
{
 "width": 880, "height": 151,
 "title": {"text": "1993 0516 (136) 00:00:00 SPA", "anchor": "start", "frame": "group", "dx": 42, "offset": 22, "fontSize": 15, "fontWeight": "normal", "font": "Liberation Sans", "color": "black"},
 "data": {"name": "dens"},
 "layer": [
  {"mark": {"type": "point", "filled": true, "size": 72, "color": "black", "opacity": 1, "clip": true},
   "encoding": {
    "x": {"field": "t", "type": "quantitative", "scale": {"domain": [0, 24], "nice": false, "zero": false}, "axis": {"values": [1,2,3,4,5,6,7,8,9,10,11,12,13,14,15,16,17,18,19,20,21,22,23], "tickCount": 1000, "grid": true, "gridDash": [10, 8], "gridColor": "black", "gridOpacity": 1, "labels": false, "ticks": false, "domain": false, "title": null}},
    "y": {"field": "v", "type": "quantitative", "scale": {"domain": [2.43, 5.89], "nice": false, "zero": false},
      "axis": {"values": [2.5,2.6,2.7,2.8,2.9,3.0,3.1,3.2,3.3,3.4,3.5,3.6,3.7,3.8,3.9,4.0,4.1,4.2,4.3,4.4,4.5,4.6,4.7,4.8,4.9,5.0,5.1,5.2,5.3,5.4,5.5,5.6,5.7,5.8], "tickCount": 1000,
        "labelExpr": "abs(datum.value*2 - round(datum.value*2)) < 0.01 ? format(datum.value, '.1f') : ''",
        "tickSize": {"condition": {"test": "abs(datum.value*2 - round(datum.value*2)) < 0.01", "value": -19}, "value": -10},
        "labelPadding": 24, "labelOverlap": false, "labelFlush": false,
        "title": "density,n/cc", "titleFontSize": 12, "titleX": -38, "titleY": 76, "titleAngle": 270, "titleAlign": "center", "titleBaseline": "middle"}}
   }},
  {"mark": {"type": "point", "opacity": 0},
   "encoding": {
    "x": {"field": "t", "type": "quantitative"},
    "y": {"field": "v", "type": "quantitative",
      "axis": {"orient": "right", "values": [2.5,2.6,2.7,2.8,2.9,3.0,3.1,3.2,3.3,3.4,3.5,3.6,3.7,3.8,3.9,4.0,4.1,4.2,4.3,4.4,4.5,4.6,4.7,4.8,4.9,5.0,5.1,5.2,5.3,5.4,5.5,5.6,5.7,5.8], "tickCount": 1000, "labels": false, "title": null,
        "tickSize": {"condition": {"test": "abs(datum.value*2 - round(datum.value*2)) < 0.01", "value": -19}, "value": -10}}}
   }}
 ],
 "resolve": {"axis": {"y": "independent"}}
},
{
 "width": 880, "height": 152,
 "layer": [
  {"data": {"name": "bz"},
   "mark": {"type": "point", "filled": true, "size": 72, "color": "black", "opacity": 1, "clip": true},
   "encoding": {
    "x": {"field": "t", "type": "quantitative", "scale": {"domain": [0, 24], "nice": false, "zero": false}, "axis": {"values": [1,2,3,4,5,6,7,8,9,10,11,12,13,14,15,16,17,18,19,20,21,22,23], "tickCount": 1000, "grid": true, "gridDash": [10, 8], "gridColor": "black", "gridOpacity": 1, "labels": false, "ticks": false, "domain": false, "title": null}},
    "y": {"field": "v", "type": "quantitative", "scale": {"domain": [-3.28, 5.17], "nice": false, "zero": false},
      "axis": {"values": [-3,-2.5,-2,-1.5,-1,-0.5,0,0.5,1,1.5,2,2.5,3,3.5,4,4.5,5], "tickCount": 1000,
        "labelExpr": "datum.value % 2 === 0 ? '' + datum.value : ''",
        "tickSize": {"condition": {"test": "datum.value % 2 === 0", "value": -19}, "value": -10},
        "labelPadding": 24, "labelOverlap": false, "labelFlush": false,
        "title": "Bz,nT", "titleFontSize": 11, "titleX": -32, "titleY": 78, "titleAngle": 270, "titleAlign": "center", "titleBaseline": "middle"}}
   }},
  {"data": {"values": [{"v": 0}]},
   "mark": {"type": "rule", "color": "black", "strokeWidth": 1},
   "encoding": {
    "y": {"field": "v", "type": "quantitative",
      "axis": {"orient": "right", "values": [-3,-2.5,-2,-1.5,-1,-0.5,0,0.5,1,1.5,2,2.5,3,3.5,4,4.5,5], "tickCount": 1000, "labels": false, "title": null,
        "tickSize": {"condition": {"test": "datum.value % 2 === 0", "value": -19}, "value": -10}}}
   }}
 ],
 "resolve": {"axis": {"y": "independent"}}
},
{
 "width": 880, "height": 152,
 "layer": [
  {"data": {"name": "ez"},
   "mark": {"type": "line", "color": "black", "strokeWidth": 1.3, "interpolate": "step-after"},
   "encoding": {
    "x": {"field": "t", "type": "quantitative", "scale": {"domain": [0, 24], "nice": false, "zero": false}, "axis": {"values": [1,2,3,4,5,6,7,8,9,10,11,12,13,14,15,16,17,18,19,20,21,22,23], "tickCount": 1000, "grid": true, "gridDash": [10, 8], "gridColor": "black", "gridOpacity": 1, "labels": false, "ticks": false, "domain": false, "title": null}},
    "y": {"field": "v", "type": "quantitative", "scale": {"domain": [0, 3], "nice": false, "zero": false},
      "axis": {"values": [0, 1, 2, 3], "tickCount": 1000, "labels": false, "tickSize": 10,
        "title": "9.0e+016 A/m^2  ******* V/m", "titleFontSize": 18, "titleX": -27, "titleY": 65, "titleAngle": 270, "titleAlign": "center", "titleBaseline": "middle"}}
   }},
  {"data": {"values": [{"v": 1, "c": "k"}, {"v": 2, "c": "b"}]},
   "mark": {"type": "rule", "strokeWidth": 1, "strokeDash": [1, 3]},
   "encoding": {
    "y": {"field": "v", "type": "quantitative", "axis": {"orient": "right", "values": [0, 1, 2, 3], "tickCount": 1000, "labels": false, "tickSize": 10, "title": null}},
    "color": {"field": "c", "type": "nominal", "scale": {"domain": ["k", "b"], "range": ["black", "blue"]}, "legend": null}
   }},
  {"data": {"values": [{"t": 0.35, "v": 1.78, "label": "EZ"}, {"t": 0.35, "v": 0.79, "label": "EZ"}]},
   "mark": {"type": "text", "angle": 270, "fontSize": 15, "fontWeight": "bold", "color": "black", "align": "center", "baseline": "middle"},
   "encoding": {
    "x": {"field": "t", "type": "quantitative"},
    "y": {"field": "v", "type": "quantitative", "axis": null},
    "text": {"field": "label"}
   }}
 ],
 "resolve": {"axis": {"y": "independent"}}
},
{
 "width": 880, "height": 152,
 "layer": [
  {"data": {"name": "ez"},
   "mark": {"type": "line", "color": "black", "strokeWidth": 1.3, "interpolate": "step-after"},
   "encoding": {
    "x": {"field": "t", "type": "quantitative", "scale": {"domain": [0, 24], "nice": false, "zero": false}, "axis": {"values": [1,2,3,4,5,6,7,8,9,10,11,12,13,14,15,16,17,18,19,20,21,22,23], "tickCount": 1000, "grid": true, "gridDash": [10, 8], "gridColor": "black", "gridOpacity": 1, "labels": false, "ticks": false, "domain": false, "title": null}},
    "y": {"field": "v", "type": "quantitative", "scale": {"domain": [0, 3], "nice": false, "zero": false},
      "axis": {"values": [0, 1, 2, 3], "tickCount": 1000, "labels": false, "tickSize": 10, "title": null}}
   }},
  {"data": {"values": [{"v": 1, "c": "k"}, {"v": 2, "c": "b"}]},
   "mark": {"type": "rule", "strokeWidth": 1, "strokeDash": [1, 3]},
   "encoding": {
    "y": {"field": "v", "type": "quantitative", "axis": {"orient": "right", "values": [0, 1, 2, 3], "tickCount": 1000, "labels": false, "tickSize": 10, "title": null}},
    "color": {"field": "c", "type": "nominal", "scale": {"domain": ["k", "b"], "range": ["black", "blue"]}, "legend": null}
   }},
  {"data": {"values": [{"t": 0.35, "v": 1.76, "label": "JZ"}, {"t": 0.35, "v": 0.77, "label": "JZ"}]},
   "mark": {"type": "text", "angle": 270, "fontSize": 15, "fontWeight": "bold", "color": "black", "align": "center", "baseline": "middle"},
   "encoding": {
    "x": {"field": "t", "type": "quantitative"},
    "y": {"field": "v", "type": "quantitative", "axis": null},
    "text": {"field": "label"}
   }}
 ],
 "resolve": {"axis": {"y": "independent"}}
},
{
 "width": 880, "height": 151,
 "layer": [
  {"data": {"name": "r"},
   "mark": {"type": "line", "color": "black", "strokeWidth": 2.2, "clip": true},
   "encoding": {
    "x": {"field": "t", "type": "quantitative", "scale": {"domain": [0, 24], "nice": false, "zero": false}, "axis": {"values": [1,2,3,4,5,6,7,8,9,10,11,12,13,14,15,16,17,18,19,20,21,22,23], "tickCount": 1000, "grid": true, "gridDash": [10, 8], "gridColor": "black", "gridOpacity": 1, "labels": false, "ticks": false, "domain": false, "title": null}},
    "y": {"field": "v", "type": "quantitative", "scale": {"domain": [0, 1], "nice": false, "zero": false},
      "axis": {"values": [0, 0.5, 1], "tickCount": 1000, "labels": false, "tickSize": 10,
        "title": "0.722 dB", "titleFontSize": 16, "titleX": -28, "titleY": -3, "titleAngle": 270, "titleAlign": "center", "titleBaseline": "middle"}}
   }},
  {"data": {"values": [{"v": 0.5}]},
   "mark": {"type": "rule", "color": "black", "strokeWidth": 1, "strokeDash": [1, 3]},
   "encoding": {
    "y": {"field": "v", "type": "quantitative", "axis": {"orient": "right", "values": [0, 0.5, 1], "tickCount": 1000, "labels": false, "tickSize": 10, "title": null}}
   }},
  {"data": {"values": [{"t": 0.33, "v": 0.33, "label": "R"}]},
   "mark": {"type": "text", "angle": 270, "fontSize": 15, "fontWeight": "bold", "color": "black", "align": "center", "baseline": "middle"},
   "encoding": {
    "x": {"field": "t", "type": "quantitative"},
    "y": {"field": "v", "type": "quantitative", "axis": null},
    "text": {"field": "label"}
   }}
 ],
 "resolve": {"axis": {"y": "independent"}}
},
{
 "width": 880, "height": 152,
 "layer": [
  {"data": {"name": "xy"},
   "mark": {"type": "line", "strokeWidth": 2, "clip": true},
   "encoding": {
    "x": {"field": "t", "type": "quantitative", "scale": {"domain": [0, 24], "nice": false, "zero": false},
      "axis": {"values": [0,0.1667,0.3333,0.5,0.6667,0.8333,1,1.1667,1.3333,1.5,1.6667,1.8333,2,2.1667,2.3333,2.5,2.6667,2.8333,3,3.1667,3.3333,3.5,3.6667,3.8333,4,4.1667,4.3333,4.5,4.6667,4.8333,5,5.1667,5.3333,5.5,5.6667,5.8333,6,6.1667,6.3333,6.5,6.6667,6.8333,7,7.1667,7.3333,7.5,7.6667,7.8333,8,8.1667,8.3333,8.5,8.6667,8.8333,9,9.1667,9.3333,9.5,9.6667,9.8333,10,10.1667,10.3333,10.5,10.6667,10.8333,11,11.1667,11.3333,11.5,11.6667,11.8333,12,12.1667,12.3333,12.5,12.6667,12.8333,13,13.1667,13.3333,13.5,13.6667,13.8333,14,14.1667,14.3333,14.5,14.6667,14.8333,15,15.1667,15.3333,15.5,15.6667,15.8333,16,16.1667,16.3333,16.5,16.6667,16.8333,17,17.1667,17.3333,17.5,17.6667,17.8333,18,18.1667,18.3333,18.5,18.6667,18.8333,19,19.1667,19.3333,19.5,19.6667,19.8333,20,20.1667,20.3333,20.5,20.6667,20.8333,21,21.1667,21.3333,21.5,21.6667,21.8333,22,22.1667,22.3333,22.5,22.6667,22.8333,23,23.1667,23.3333,23.5,23.6667,23.8333,24],
        "tickCount": 1000,
        "labelExpr": "abs(datum.value - round(datum.value)) < 0.01 ? (round(datum.value) % 24 < 10 ? '0' : '') + (round(datum.value) % 24) : ''",
        "tickSize": {"condition": {"test": "abs(datum.value - round(datum.value)) < 0.01", "value": -6}, "value": -3},
        "labelPadding": 19, "labelOverlap": false, "labelFlush": false, "labelFontSize": 11, "labelFontWeight": "bold",
        "grid": true, "gridDash": [10, 8], "gridColor": "black",
        "gridOpacity": {"condition": {"test": "abs(datum.value - round(datum.value)) < 0.01 && datum.value > 0.5 && datum.value < 23.5", "value": 1}, "value": 0},
        "domain": false, "title": "UT", "titleFontSize": 11, "titleFontWeight": "bold", "titlePadding": 4}},
    "y": {"field": "v", "type": "quantitative", "scale": {"domain": [0, 1], "nice": false, "zero": false},
      "axis": {"values": [0, 0.5, 1], "tickCount": 1000, "labels": false, "tickSize": 10,
        "title": "261 nT", "titleFontSize": 16, "titleX": -28, "titleY": -11, "titleAngle": 270, "titleAlign": "center", "titleBaseline": "middle"}},
    "color": {"field": "s", "type": "nominal", "scale": {"domain": ["X", "Y"], "range": ["black", "#0000ff"]}, "legend": null}
   }},
  {"data": {"values": [{"v": 0.5}]},
   "mark": {"type": "rule", "color": "black", "strokeWidth": 1, "strokeDash": [1, 3]},
   "encoding": {
    "y": {"field": "v", "type": "quantitative", "axis": {"orient": "right", "values": [0, 0.5, 1], "tickCount": 1000, "labels": false, "tickSize": 10, "title": null}}
   }},
  {"data": {"values": [{"t": 0.33, "v": 0.375, "label": "X,Y"}]},
   "mark": {"type": "text", "angle": 270, "fontSize": 15, "fontWeight": "bold", "color": "black", "align": "center", "baseline": "middle"},
   "encoding": {
    "x": {"field": "t", "type": "quantitative"},
    "y": {"field": "v", "type": "quantitative", "axis": null},
    "text": {"field": "label"}
   }}
 ],
 "resolve": {"axis": {"y": "independent"}}
}
]
}
